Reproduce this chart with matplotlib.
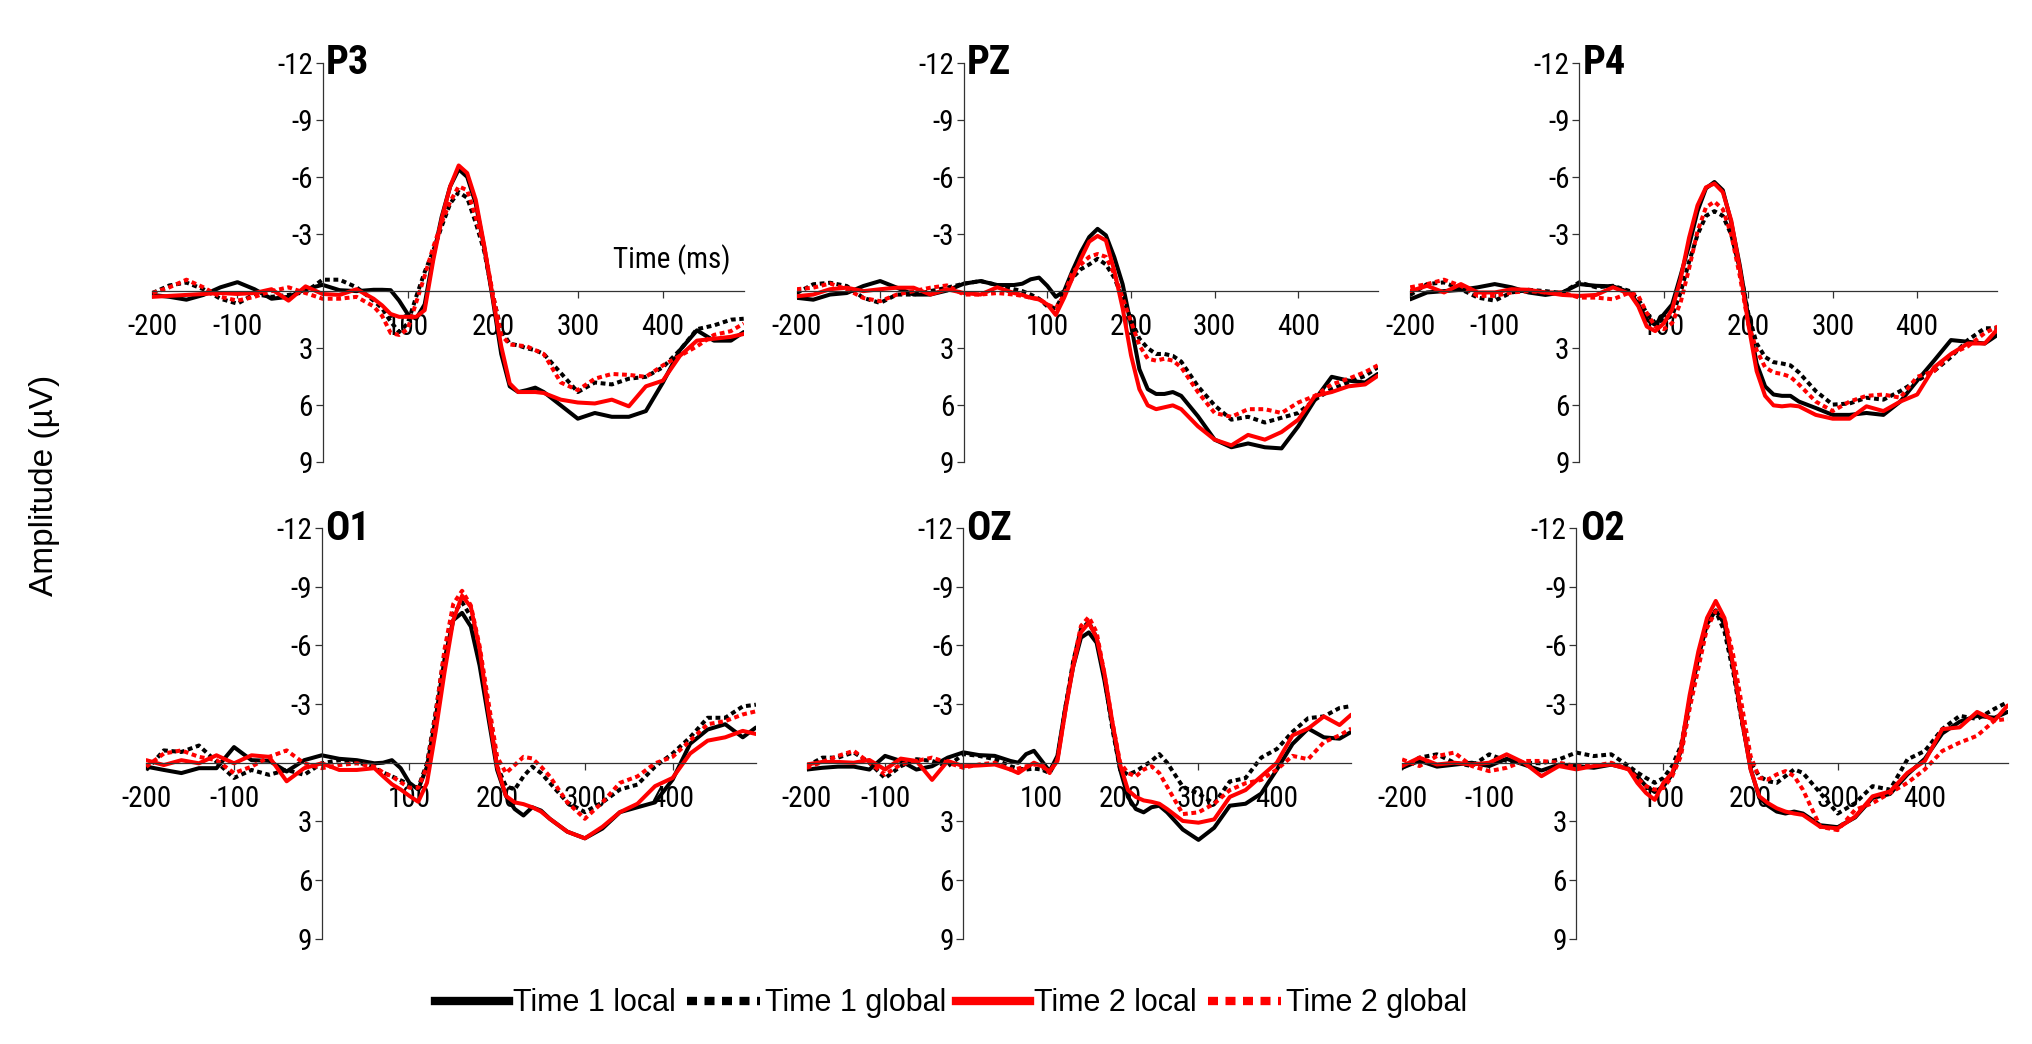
import matplotlib
matplotlib.use('Agg')
import matplotlib.pyplot as plt
from matplotlib.lines import Line2D

plt.rcParams['font.family'] = ['Liberation Sans', 'DejaVu Sans']
FUENTE_ESTRECHA = ['Roboto Condensed', 'Liberation Sans', 'DejaVu Sans']

# Eje temporal compartido (ms)
TIME_MS = [-200, -180, -160, -140, -120, -100, -80, -60, -40, -20, 0, 20, 40, 60,
           70, 80, 90, 100, 110, 120, 130, 140, 150, 160, 170, 180, 190, 200, 210,
           220, 230, 240, 250, 260, 280, 300, 320, 340, 360, 380, 400, 420, 440,
           460, 480, 495]

# Amplitudes (uV)
P3_T1_LOCAL = [0.2, 0.3, 0.45, 0.2, -0.2, -0.47, -0.1, 0.4, 0.3, -0.1, -0.33, -0.05, 0.0, -0.07, -0.07, -0.05, 0.5, 1.2, 1.45, 0.7,
               -1.8, -3.9, -5.5, -6.4, -6.0, -4.6, -2.3, 0.4, 3.3, 5.0, 5.3, 5.2, 5.07, 5.3, 6.0, 6.7, 6.4, 6.6, 6.6, 6.3,
               4.8, 3.1, 2.06, 2.6, 2.6, 2.15]
P3_T1_GLOBAL = [0.1, -0.3, -0.45, -0.1, 0.4, 0.66, 0.15, 0.3, 0.2, 0.05, -0.6, -0.6, -0.2, 0.5, 0.9, 1.6, 2.15, 1.7, 0.3, -1.0,
                -2.1, -3.4, -4.6, -5.2, -4.9, -3.6, -2.1, 0.2, 2.06, 2.76, 2.85, 3.0, 3.1, 3.3, 4.3, 5.3, 4.8, 4.9, 4.6, 4.5,
                4.0, 3.1, 2.0, 1.8, 1.5, 1.45]
P3_T2_LOCAL = [0.3, 0.25, 0.2, 0.15, 0.1, 0.15, 0.1, -0.1, 0.5, -0.25, 0.15, 0.2, -0.1, 0.4, 0.75, 1.2, 1.35, 1.35, 1.35, 1.0,
               -1.6, -3.8, -5.5, -6.6, -6.2, -4.8, -2.4, 0.3, 2.9, 4.85, 5.3, 5.3, 5.3, 5.35, 5.7, 5.85, 5.9, 5.7, 6.05, 5.0,
               4.7, 3.4, 2.6, 2.5, 2.4, 2.25]
P3_T2_GLOBAL = [0.1, -0.2, -0.6, -0.2, 0.3, 0.5, 0.3, 0.0, -0.2, 0.1, 0.4, 0.4, 0.3, 0.8, 1.3, 2.2, 2.3, 2.0, 0.6, -0.8,
                -2.3, -3.6, -4.7, -5.5, -5.3, -3.9, -2.3, 0.1, 2.3, 2.8, 2.85, 2.9, 3.1, 3.3, 4.8, 5.2, 4.6, 4.35, 4.4, 4.5,
                3.9, 3.4, 2.9, 2.3, 2.1, 1.7]

PZ_T1_LOCAL = [0.35, 0.45, 0.18, 0.1, -0.27, -0.53, -0.18, 0.18, 0.18, -0.03, -0.39, -0.53, -0.32, -0.32, -0.39, -0.62, -0.71, -0.27, 0.3, 0.0,
               -1.07, -2.04, -2.84, -3.27, -2.93, -1.78, -0.36, 1.78, 4.1, 5.15, 5.4, 5.4, 5.3, 5.5, 6.57, 7.8, 8.2, 8.0, 8.2, 8.26,
               7.1, 5.7, 4.5, 4.7, 4.8, 4.35]
PZ_T1_GLOBAL = [0.1, -0.36, -0.44, -0.27, 0.36, 0.62, 0.18, 0.18, 0.0, -0.18, -0.39, -0.53, -0.32, -0.1, 0.0, 0.18, 0.4, 0.8, 0.9, 0.1,
                -0.7, -1.15, -1.4, -1.7, -1.4, -0.7, 0.36, 1.5, 2.5, 3.0, 3.3, 3.3, 3.4, 3.7, 5.0, 6.0, 6.75, 6.6, 6.9, 6.65,
                6.4, 5.7, 5.15, 4.8, 4.45, 4.0]
PZ_T2_LOCAL = [0.27, 0.18, -0.1, -0.18, 0.0, -0.1, -0.18, -0.18, 0.18, -0.1, 0.1, 0.18, -0.2, 0.1, 0.2, 0.35, 0.44, 0.7, 1.25, 0.35,
               -0.7, -1.7, -2.6, -2.9, -2.66, -1.07, 0.9, 3.37, 5.15, 6.0, 6.2, 6.1, 6.0, 6.2, 7.1, 7.8, 8.1, 7.55, 7.8, 7.4,
               6.75, 5.5, 5.3, 5.0, 4.9, 4.45]
PZ_T2_GLOBAL = [-0.1, -0.18, -0.4, -0.1, 0.36, 0.53, 0.18, 0.0, -0.18, -0.3, 0.18, 0.18, 0.1, 0.18, 0.25, 0.35, 0.4, 0.7, 0.9, 0.2,
                -1.0, -1.4, -1.8, -1.95, -1.8, -0.9, 0.36, 1.6, 2.85, 3.55, 3.65, 3.55, 3.65, 4.0, 5.3, 6.4, 6.6, 6.2, 6.2, 6.4,
                5.85, 5.5, 4.9, 4.6, 4.25, 3.9]

P4_T1_LOCAL = [0.43, 0.07, 0.0, -0.07, -0.2, -0.37, -0.2, 0.07, 0.2, 0.07, -0.37, -0.28, -0.25, 0.07, 0.7, 1.5, 1.77, 1.23, 0.7, -0.82,
               -2.4, -4.2, -5.4, -5.73, -5.3, -3.6, -1.36, 1.32, 3.8, 5.0, 5.43, 5.5, 5.5, 5.8, 6.14, 6.5, 6.5, 6.4, 6.5, 5.8,
               4.7, 3.65, 2.57, 2.66, 2.75, 2.3]
P4_T1_GLOBAL = [0.2, -0.37, -0.46, -0.1, 0.34, 0.5, 0.07, -0.07, 0.0, 0.1, -0.46, -0.2, -0.28, 0.0, 0.43, 1.15, 1.68, 1.5, 1.3, 0.07,
                -1.53, -2.96, -3.95, -4.2, -3.95, -2.96, -1.18, 1.15, 2.75, 3.46, 3.73, 3.8, 3.9, 4.27, 5.25, 5.96, 5.9, 5.6, 5.7, 5.25,
                4.7, 4.2, 3.46, 2.57, 1.95, 1.95]
P4_T2_LOCAL = [0.0, -0.28, 0.07, -0.37, 0.07, 0.07, -0.1, -0.07, 0.07, 0.2, 0.25, 0.2, -0.2, 0.15, 0.8, 1.86, 2.1, 1.7, 0.96, -0.64,
               -2.8, -4.5, -5.45, -5.65, -5.2, -3.7, -1.2, 1.7, 4.2, 5.5, 6.0, 6.05, 6.0, 6.05, 6.5, 6.7, 6.7, 6.05, 6.3, 5.8,
               5.43, 4.0, 3.3, 2.75, 2.75, 2.0]
P4_T2_GLOBAL = [-0.2, -0.37, -0.6, -0.28, 0.25, 0.25, 0.07, 0.0, 0.07, 0.07, 0.34, 0.34, 0.43, 0.07, 0.25, 1.15, 1.86, 2.0, 1.68, 0.6,
                -1.18, -3.14, -4.4, -4.7, -4.3, -2.96, -0.82, 1.7, 3.1, 4.0, 4.27, 4.35, 4.5, 4.9, 5.8, 6.3, 5.8, 5.5, 5.43, 5.6,
                4.5, 4.2, 3.3, 2.9, 2.2, 1.86]

O1_T1_LOCAL = [0.2, 0.37, 0.53, 0.28, 0.28, -0.8, -0.13, -0.1, 0.45, -0.13, -0.38, -0.2, -0.13, 0.03, 0.0, -0.13, 0.28, 1.03, 1.37, 0.2,
               -2.3, -5.3, -7.3, -7.67, -6.97, -4.97, -2.3, 0.37, 1.7, 2.37, 2.7, 2.28, 2.45, 2.87, 3.53, 3.87, 3.37, 2.53, 2.28, 2.03,
               0.87, -0.97, -1.7, -1.97, -1.3, -1.8]
O1_T1_GLOBAL = [0.37, -0.63, -0.55, -0.88, -0.05, 0.78, 0.37, 0.62, 0.37, 0.62, 0.03, -0.13, -0.05, 0.28, 0.5, 0.7, 0.9, 1.12, 1.28, 0.03,
                -2.63, -5.63, -7.63, -8.22, -7.47, -5.47, -2.63, 0.2, 1.2, 1.37, 0.7, 0.2, 0.53, 1.03, 2.03, 2.53, 2.03, 1.37, 1.12, 0.2,
                -0.47, -1.3, -2.3, -2.3, -2.88, -2.97]
O1_T2_LOCAL = [-0.13, 0.12, -0.13, 0.03, -0.38, 0.03, -0.38, -0.3, 0.95, 0.28, 0.03, 0.37, 0.37, 0.28, 0.7, 1.1, 1.37, 1.7, 2.0, 1.03,
               -1.63, -4.63, -7.3, -8.55, -7.97, -5.8, -2.63, 0.2, 1.7, 2.03, 2.12, 2.28, 2.5, 2.87, 3.53, 3.87, 3.28, 2.53, 2.1, 1.2,
               0.78, -0.47, -1.13, -1.3, -1.63, -1.47]
O1_T2_GLOBAL = [0.2, -0.47, -0.63, -0.3, -0.13, 0.53, 0.2, -0.3, -0.63, 0.03, 0.28, 0.12, 0.03, 0.2, 0.5, 0.7, 1.0, 1.28, 1.28, 0.2,
                -2.47, -5.8, -8.13, -8.8, -8.05, -5.97, -3.13, -0.3, 0.53, 0.12, -0.3, -0.22, 0.2, 0.7, 2.03, 2.87, 2.03, 1.03, 0.7, 0.03,
                -0.3, -1.13, -1.97, -2.13, -2.47, -2.63]

OZ_T1_LOCAL = [0.35, 0.26, 0.2, 0.2, 0.35, -0.35, -0.09, 0.35, 0.18, -0.26, -0.53, -0.39, -0.35, -0.09, 0.0, -0.44, -0.61, -0.09, 0.44, -0.35,
               -2.8, -4.9, -6.4, -6.67, -6.14, -4.2, -1.93, 0.35, 1.75, 2.37, 2.54, 2.28, 2.2, 2.54, 3.42, 3.95, 3.33, 2.2, 2.1, 1.58,
               0.35, -0.96, -1.75, -1.3, -1.23, -1.58]
OZ_T1_GLOBAL = [0.18, -0.26, -0.26, -0.53, 0.0, 0.79, 0.18, -0.18, -0.09, 0.18, -0.44, -0.35, -0.18, 0.18, 0.3, 0.35, 0.3, 0.35, 0.53, -0.18,
                -2.8, -5.17, -6.84, -7.2, -6.4, -4.4, -1.75, 0.35, 0.61, 0.44, 0.18, -0.09, -0.44, 0.0, 1.23, 1.58, 2.1, 0.96, 0.79, -0.26,
                -0.7, -1.58, -2.28, -2.37, -2.8, -2.9]
OZ_T2_LOCAL = [0.09, -0.04, -0.04, 0.0, -0.14, 0.35, -0.21, -0.09, 0.88, -0.09, 0.18, 0.14, 0.09, 0.35, 0.53, 0.26, 0.0, 0.18, 0.44, -0.09,
               -2.63, -4.9, -6.67, -7.16, -6.4, -4.56, -2.1, 0.1, 1.4, 1.75, 1.93, 2.0, 2.1, 2.37, 2.98, 3.07, 2.9, 1.75, 1.4, 0.7,
               0.0, -1.4, -1.75, -2.37, -1.93, -2.46]
OZ_T2_GLOBAL = [0.26, -0.04, -0.35, -0.61, 0.0, 0.61, 0.09, -0.09, -0.26, 0.0, 0.26, 0.09, 0.0, 0.35, 0.3, 0.18, 0.1, 0.09, 0.53, -0.18,
                -2.63, -5.1, -7.0, -7.46, -6.67, -4.56, -2.1, 0.0, 0.53, 0.7, 0.35, 0.18, 0.53, 1.23, 2.63, 2.54, 2.1, 1.4, 1.05, 0.88,
                0.35, -0.35, -0.18, -1.05, -1.4, -1.75]

O2_T1_LOCAL = [0.26, -0.1, 0.2, 0.1, 0.0, 0.17, -0.2, 0.1, 0.4, 0.1, 0.17, 0.26, 0.1, 0.3, 0.7, 1.2, 1.5, 1.2, 0.6, -0.6,
               -3.2, -5.4, -7.1, -7.8, -7.1, -4.9, -2.2, 0.3, 1.8, 2.2, 2.5, 2.6, 2.5, 2.6, 3.2, 3.3, 2.8, 1.8, 1.6, 0.6,
               -0.2, -1.5, -2.1, -2.4, -2.3, -2.6]
O2_T1_GLOBAL = [0.26, -0.26, -0.43, 0.0, 0.17, -0.43, -0.09, 0.0, 0.03, -0.17, -0.52, -0.34, -0.43, 0.17, 0.5, 0.78, 1.03, 0.78, 0.17, -0.86,
                -3.1, -5.34, -7.07, -7.76, -6.72, -4.66, -2.07, 0.0, 0.69, 0.95, 1.03, 0.69, 0.34, 0.52, 1.55, 2.6, 2.07, 1.2, 1.38, -0.17,
                -0.6, -1.72, -2.4, -2.24, -2.76, -3.1]
O2_T2_LOCAL = [0.17, -0.26, 0.09, 0.0, 0.09, 0.0, -0.43, 0.0, 0.69, 0.17, 0.34, 0.17, 0.09, 0.34, 1.03, 1.55, 1.9, 1.03, 0.52, -0.69,
               -3.45, -5.69, -7.41, -8.28, -7.41, -5.0, -2.24, 0.34, 1.72, 2.07, 2.33, 2.5, 2.6, 2.67, 3.28, 3.36, 2.76, 1.72, 1.47, 0.52,
               -0.09, -1.72, -1.81, -2.6, -2.16, -2.93]
O2_T2_GLOBAL = [-0.17, 0.17, -0.34, -0.52, 0.17, 0.43, 0.26, -0.09, -0.09, 0.0, 0.17, 0.17, 0.0, 0.34, 0.8, 1.2, 1.38, 1.29, 0.69, -0.34,
                -2.76, -4.83, -6.9, -7.76, -7.41, -5.52, -2.93, -0.34, 0.78, 0.86, 0.6, 0.43, 0.69, 1.38, 3.28, 3.45, 2.41, 2.07, 1.55, 1.03,
                0.34, -0.6, -1.03, -1.38, -2.16, -2.24]

ELECTRODOS = ['P3', 'PZ', 'P4', 'O1', 'OZ', 'O2']
SERIES = {
    'P3': [P3_T1_LOCAL, P3_T1_GLOBAL, P3_T2_LOCAL, P3_T2_GLOBAL],
    'PZ': [PZ_T1_LOCAL, PZ_T1_GLOBAL, PZ_T2_LOCAL, PZ_T2_GLOBAL],
    'P4': [P4_T1_LOCAL, P4_T1_GLOBAL, P4_T2_LOCAL, P4_T2_GLOBAL],
    'O1': [O1_T1_LOCAL, O1_T1_GLOBAL, O1_T2_LOCAL, O1_T2_GLOBAL],
    'OZ': [OZ_T1_LOCAL, OZ_T1_GLOBAL, OZ_T2_LOCAL, OZ_T2_GLOBAL],
    'O2': [O2_T1_LOCAL, O2_T1_GLOBAL, O2_T2_LOCAL, O2_T2_GLOBAL],
}
NOMBRES_SERIES = ['Time 1 local', 'Time 1 global', 'Time 2 local', 'Time 2 global']
X_TICKS = [-200, -100, 100, 200, 300, 400]
Y_TICKS = [-12, -9, -6, -3, 3, 6, 9]

# Posición de cada panel en la figura [izq, abajo, ancho, alto]
POSICIONES = {
    'P3': [0.075, 0.557, 0.291, 0.383],
    'PZ': [0.392, 0.557, 0.286, 0.383],
    'P4': [0.694, 0.557, 0.289, 0.383],
    'O1': [0.072, 0.101, 0.300, 0.393],
    'OZ': [0.397, 0.101, 0.268, 0.393],
    'O2': [0.690, 0.101, 0.298, 0.393],
}

COLORES = ['black', 'black', '#ff0000', '#ff0000']
ESTILOS = ['-', (0, (1.2, 0.9)), '-', (0, (1.2, 0.9))]

fig = plt.figure(figsize=(20.32, 10.44), dpi=100)

for nombre in ELECTRODOS:
    ax = fig.add_axes(POSICIONES[nombre])
    for serie, color, estilo in zip(SERIES[nombre], COLORES, ESTILOS):
        ax.plot(TIME_MS, serie, color=color, linestyle=estilo, linewidth=2.9,
                solid_joinstyle='round', solid_capstyle='round')

    ax.set_xlim(-200, 495)
    ax.set_ylim(9, -12)  # eje invertido: negativo hacia arriba

    ax.spines['left'].set_position(('data', 0))
    ax.spines['bottom'].set_position(('data', 0))
    ax.spines['top'].set_visible(False)
    ax.spines['right'].set_visible(False)
    for lado in ['left', 'bottom']:
        ax.spines[lado].set_linewidth(0.9)
        ax.spines[lado].set_color('#333333')

    ax.set_xticks(X_TICKS)
    ax.set_xticklabels([str(v) for v in X_TICKS])
    ax.set_yticks(Y_TICKS)
    ax.set_yticklabels([str(v) for v in Y_TICKS])
    ax.tick_params(axis='x', direction='out', length=5, width=0.9, color='#333333',
                   pad=11, labelsize=21)
    ax.tick_params(axis='y', direction='out', length=5, width=0.9, color='#333333',
                   pad=2, labelsize=21)
    for etiqueta in ax.get_xticklabels() + ax.get_yticklabels():
        etiqueta.set_family(FUENTE_ESTRECHA)
    ax.patch.set_alpha(0)

    ax.text(4, -11.4, nombre, fontsize=29, fontweight='bold', ha='left', va='baseline',
            family=FUENTE_ESTRECHA)

    if nombre == 'P3':
        ax.text(411, -1.65, 'Time (ms)', fontsize=21, ha='center', va='center',
                family=FUENTE_ESTRECHA)

fig.text(0.022, 0.535, 'Amplitude (µV)', rotation=90, fontsize=24,
         ha='center', va='center')

manejadores = [Line2D([0], [0], color=c, linestyle=e, linewidth=6)
               for c, e in zip(COLORES, ESTILOS)]
fig.legend(manejadores, NOMBRES_SERIES, loc='center', bbox_to_anchor=(0.468, 0.039),
           ncol=4, frameon=False, fontsize=22, handlelength=2.4, handletextpad=0.15,
           columnspacing=0.35)

fig.savefig('out.png', dpi=100)
